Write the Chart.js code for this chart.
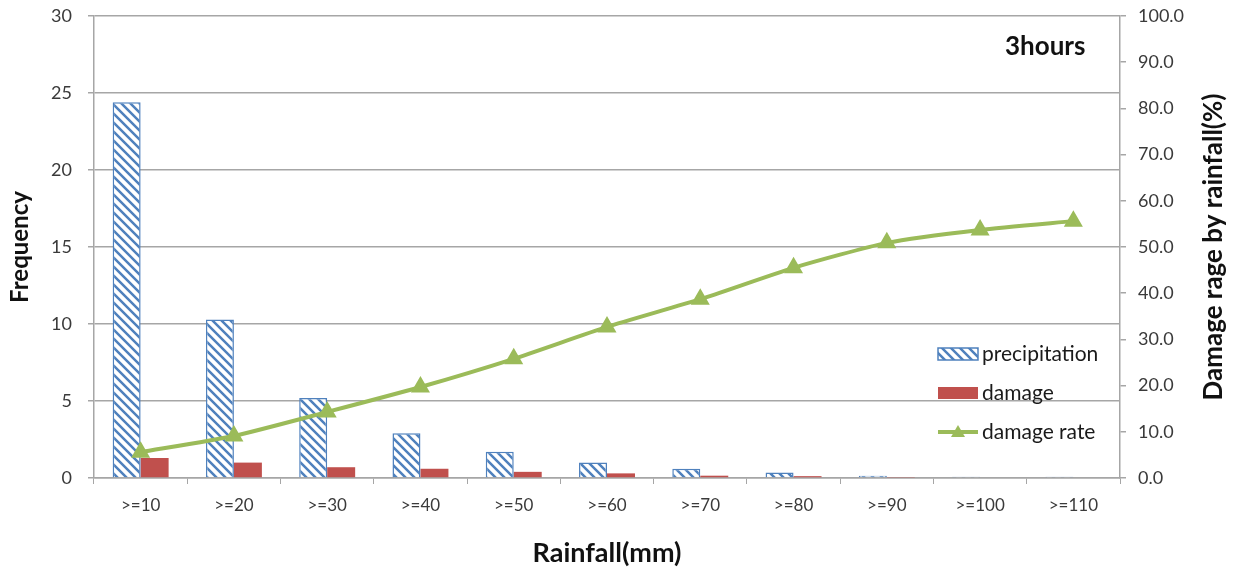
<!DOCTYPE html>
<html>
<head>
<meta charset="utf-8">
<script src="https://cdn.jsdelivr.net/npm/chart.js@4/dist/chart.umd.min.js"></script>
<style>
html,body{margin:0;padding:0;background:#fff;}
#wrap{width:1239px;height:569px;position:relative;}
</style>
</head>
<body>
<div id="wrap"><canvas id="c" width="1239" height="569"></canvas></div>
<script>
const categories = ['>=10','>=20','>=30','>=40','>=50','>=60','>=70','>=80','>=90','>=100','>=110'];
const precipitation = [24.4, 10.3, 5.2, 2.9, 1.7, 1.0, 0.6, 0.35, 0.15, 0.08, 0.08];
const damage = [1.3, 1.0, 0.7, 0.6, 0.4, 0.3, 0.15, 0.12, 0.03, 0.0, 0.0];
const damageRate = [5.6, 9.1, 14.3, 19.7, 25.8, 32.7, 38.7, 45.5, 50.9, 53.7, 55.6];
const seriesNames = ['precipitation', 'damage', 'damage rate'];
const annotationText = '3hours';
const xTitle = 'Rainfall(mm)';
const yTitle = 'Frequency';
const y1Title = 'Damage rage by rainfall(%)';

const BLUE = '#4F81BD', RED = '#C0504D', GREEN = '#9BBB59';
const FONT = 'Lato, "Open Sans", sans-serif';
const GRID = '#A6A6A6';
const TXT = '#3a3a3a';

function hatch(color){
  const s = 9;
  const c = document.createElement('canvas');
  c.width = s; c.height = s;
  const x = c.getContext('2d');
  x.fillStyle = '#fff'; x.fillRect(0,0,s,s);
  x.strokeStyle = color; x.lineWidth = 2.5; x.lineCap = 'square';
  x.beginPath();
  for (let k=-1;k<=1;k++){ x.moveTo(-s, -s + k*s); x.lineTo(2*s, 2*s + k*s); }
  x.stroke();
  return x.createPattern(c, 'repeat');
}
const hatchPattern = hatch(BLUE);

const legendPlugin = {
  id: 'customLegend',
  afterDraw(chart){
    const ctx = chart.ctx;
    ctx.save();
    const x0 = 938, w = 40, ys = [354, 393, 432];
    ctx.textBaseline = 'middle';
    // precipitation
    ctx.fillStyle = hatchPattern;
    ctx.fillRect(x0, ys[0]-6, w, 12);
    ctx.strokeStyle = BLUE; ctx.lineWidth = 1.5;
    ctx.strokeRect(x0, ys[0]-6, w, 12);
    // damage
    ctx.fillStyle = RED;
    ctx.fillRect(x0, ys[1]-6, w, 12);
    // damage rate
    ctx.strokeStyle = GREEN; ctx.lineWidth = 4;
    ctx.beginPath(); ctx.moveTo(x0, ys[2]); ctx.lineTo(x0+w, ys[2]); ctx.stroke();
    ctx.fillStyle = GREEN;
    ctx.beginPath(); ctx.moveTo(x0+w/2, ys[2]-7); ctx.lineTo(x0+w/2+7, ys[2]+5); ctx.lineTo(x0+w/2-7, ys[2]+5); ctx.closePath(); ctx.fill();
    ctx.font = '21px ' + FONT;
    ctx.fillStyle = '#1a1a1a';
    for (let i=0;i<3;i++) ctx.fillText(seriesNames[i], 982, ys[i]);
    // annotation
    ctx.font = 'bold 26px ' + FONT;
    ctx.fillStyle = '#111';
    ctx.textAlign = 'left';
    ctx.fillText(annotationText, 1005, 47);
    // right axis title (reads bottom to top)
    ctx.translate(1214, 247);
    ctx.rotate(-Math.PI/2);
    ctx.textAlign = 'center';
    ctx.font = 'bold 26px ' + FONT;
    ctx.fillText(y1Title, 0, 0);
    ctx.restore();
  }
};

new Chart(document.getElementById('c'), {
  type: 'bar',
  data: {
    labels: categories,
    datasets: [
      {
        type: 'line', label: seriesNames[2], data: damageRate, yAxisID: 'y1',
        borderColor: GREEN, backgroundColor: GREEN, borderWidth: 4,
        pointStyle: 'triangle', pointRadius: 7, pointBackgroundColor: GREEN, pointBorderColor: GREEN,
        tension: 0.2, order: 0
      },
      {
        label: seriesNames[0], data: precipitation, yAxisID: 'y',
        backgroundColor: hatchPattern, borderColor: BLUE, borderWidth: 1.5,
        barPercentage: 1.0, categoryPercentage: 0.6, order: 1
      },
      {
        label: seriesNames[1], data: damage, yAxisID: 'y',
        backgroundColor: RED, borderWidth: 0,
        barPercentage: 1.0, categoryPercentage: 0.6, order: 1
      }
    ]
  },
  options: {
    responsive: false,
    animation: false,
    layout: { padding: { top: 16, left: 0, right: 0, bottom: 0 } },
    plugins: { legend: { display: false }, tooltip: { enabled: false } },
    scales: {
      x: {
        grid: { display: true, drawOnChartArea: false, drawTicks: true, tickLength: 6, color: GRID, offset: true },
        border: { display: true, color: GRID, width: 1.5 },
        ticks: { color: TXT, font: { family: FONT, size: 17 }, padding: 11, maxRotation: 0, autoSkip: false },
        title: { display: true, text: xTitle, color: '#111', font: { family: FONT, size: 27, weight: 'bold' }, padding: { top: 0, bottom: 0 } },
        afterFit(s){ s.height = 91; s.paddingLeft = 0; s.paddingRight = 0; }
      },
      y: {
        position: 'left', min: 0, max: 30,
        ticks: { stepSize: 5, color: TXT, font: { family: FONT, size: 18 }, padding: 16 },
        grid: { color: GRID, lineWidth: 1.5, tickLength: 6 },
        border: { display: true, color: GRID, width: 1.5 },
        title: { display: true, text: yTitle, color: '#111', font: { family: FONT, size: 24, weight: 'bold' }, padding: { top: 6 } },
        afterFit(s){ s.width = 94; s.paddingTop = 0; s.paddingBottom = 0; }
      },
      y1: {
        position: 'right', min: 0, max: 100,
        ticks: { stepSize: 10, color: TXT, font: { family: FONT, size: 18 }, padding: 12, callback: v => Number(v).toFixed(1) },
        grid: { drawOnChartArea: false, color: GRID, lineWidth: 1.5, tickLength: 6 },
        border: { display: true, color: GRID, width: 1.5 },
        title: { display: false },
        afterFit(s){ s.width = 119; s.paddingTop = 0; s.paddingBottom = 0; }
      }
    }
  },
  plugins: [legendPlugin]
});
</script>
</body>
</html>
